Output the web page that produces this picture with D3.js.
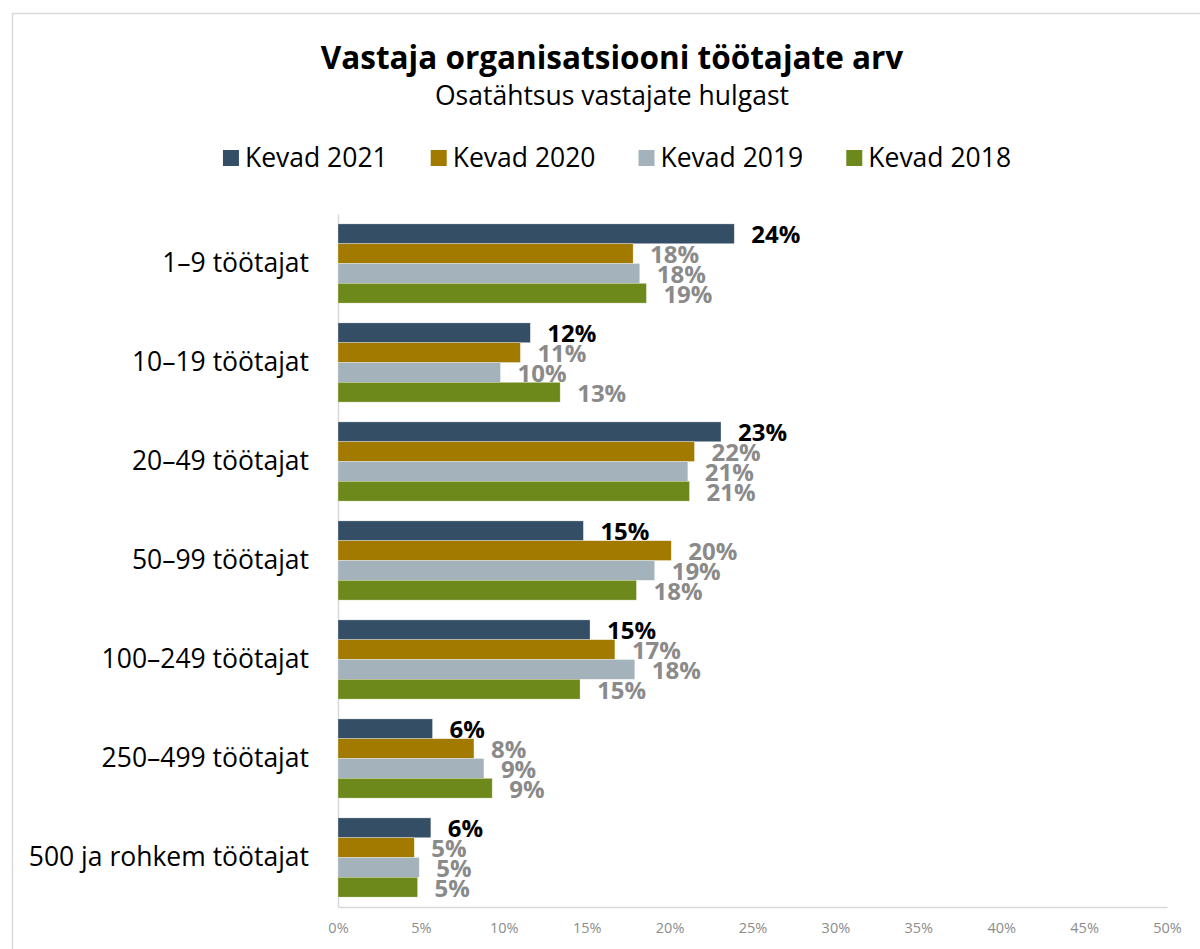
<!DOCTYPE html>
<html>
<head>
<meta charset="utf-8">
<script src="https://cdn.jsdelivr.net/npm/d3@7"></script>
<style>
  body { margin: 0; background: #fff; font-family: "Open Sans", sans-serif; }
</style>
</head>
<body>
<div id="chart"></div>
<script>
// andmed (loetud pildilt)
const categories = ["1–9 töötajat", "10–19 töötajat", "20–49 töötajat", "50–99 töötajat",
    "100–249 töötajat", "250–499 töötajat", "500 ja rohkem töötajat"];
const seriesNames = ["Kevad 2021", "Kevad 2020", "Kevad 2019", "Kevad 2018"];
const kevad2021 = [23.9, 11.6, 23.1, 14.8, 15.2, 5.7, 5.6];
const kevad2020 = [17.8, 11.0, 21.5, 20.1, 16.7, 8.2, 4.6];
const kevad2019 = [18.2, 9.8, 21.1, 19.1, 17.9, 8.8, 4.9];
const kevad2018 = [18.6, 13.4, 21.2, 18.0, 14.6, 9.3, 4.8];
const xTicks = [0, 5, 10, 15, 20, 25, 30, 35, 40, 45, 50];
const colors = ["#344e65", "#a27a00", "#a4b3bb", "#6d891b"];

const seriesValues = [kevad2021, kevad2020, kevad2019, kevad2018];
const rows = [];
categories.forEach((c, i) => {
    seriesNames.forEach((s, j) => {
        rows.push({ category: c, series: s, value: seriesValues[j][i], idx: j });
    });
});

const W = 1200, H = 949;
const svg = d3.select("#chart").append("svg")
    .attr("width", W)
    .attr("height", H);

// raam
svg.append("path")
    .attr("d", `M12.5,${H} V13.5 H${W}`)
    .attr("fill", "none")
    .attr("stroke", "#d9d9d9")
    .attr("stroke-width", 1.5);

const cx = 612;

svg.append("text")
    .attr("x", cx).attr("y", 69)
    .attr("text-anchor", "middle")
    .style("font-size", "31.5px")
    .style("font-weight", "bold")
    .style("fill", "#000")
    .text("Vastaja organisatsiooni töötajate arv");

svg.append("text")
    .attr("x", cx).attr("y", 105)
    .attr("text-anchor", "middle")
    .style("font-size", "26.5px")
    .style("fill", "#000")
    .text("Osatähtsus vastajate hulgast");

// legend
const legend = svg.append("g");
let lx = 0;
seriesNames.forEach((s, j) => {
    const g = legend.append("g").attr("transform", `translate(${lx},0)`);
    g.append("rect")
        .attr("x", 0).attr("y", 150)
        .attr("width", 16).attr("height", 16)
        .attr("fill", colors[j]);
    const t = g.append("text")
        .attr("x", 22).attr("y", 167)
        .style("font-size", "26.5px")
        .style("fill", "#000")
        .text(s);
    lx += 22 + t.node().getComputedTextLength() + 43;
});
const legendW = lx - 43;
legend.attr("transform", `translate(${cx + 5 - legendW / 2},0)`);

// skaalad
const x = d3.scaleLinear().domain([0, 50]).range([338, 1167]);
const y = d3.scaleBand().domain(categories).range([214, 907])
    .paddingInner(0.2).paddingOuter(0.1);
const ySub = d3.scaleBand().domain(seriesNames).range([0, y.bandwidth()]);

// x telg
const xAxis = svg.append("g")
    .attr("transform", "translate(0,907)")
    .call(d3.axisBottom(x).tickValues(xTicks).tickSize(0).tickPadding(16)
        .tickFormat(d => d + "%"));
xAxis.select(".domain").attr("stroke", "#d9d9d9").attr("stroke-width", 1.5);
xAxis.selectAll("text")
    .style("font-family", "'Open Sans', sans-serif")
    .style("font-size", "14.5px")
    .style("fill", "#8c8c8c");

// y telg
const yAxis = svg.append("g")
    .attr("transform", "translate(338,0)")
    .call(d3.axisLeft(y).tickSize(0).tickPadding(29));
yAxis.select(".domain").attr("stroke", "#d9d9d9").attr("stroke-width", 1.5);
yAxis.selectAll("text")
    .style("font-family", "'Open Sans', sans-serif")
    .style("font-size", "26.5px")
    .style("fill", "#000");

// tulbad
svg.selectAll(".bar")
    .data(rows)
    .enter()
    .append("rect")
    .attr("class", "bar")
    .attr("x", x(0))
    .attr("y", d => y(d.category) + ySub(d.series))
    .attr("width", d => x(d.value) - x(0))
    .attr("height", ySub.bandwidth())
    .attr("fill", d => colors[d.idx])
    .attr("stroke", "#ffffff")
    .attr("stroke-opacity", 0.5)
    .attr("stroke-width", 0.6);

// sildid
svg.selectAll(".label")
    .data(rows)
    .enter()
    .append("text")
    .attr("class", "label")
    .attr("x", d => x(d.value) + 17)
    .attr("y", d => y(d.category) + ySub(d.series) + ySub.bandwidth() - 0.5)
    .style("font-size", "24px")
    .style("font-weight", "bold")
    .style("fill", d => d.idx === 0 ? "#000" : "#8a8a8a")
    .text(d => Math.round(d.value) + "%");
</script>
</body>
</html>
